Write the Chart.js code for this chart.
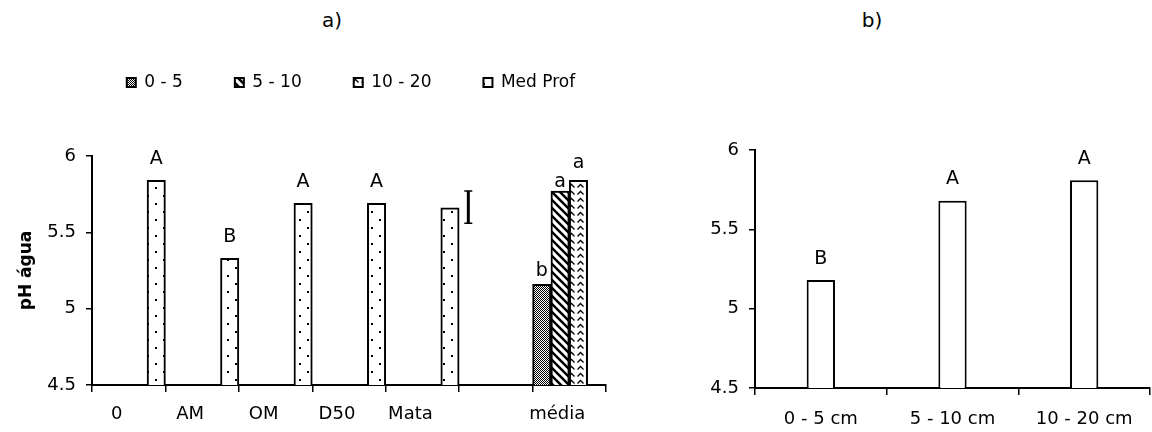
<!DOCTYPE html>
<html>
<head>
<meta charset="utf-8">
<script src="https://cdn.jsdelivr.net/npm/chart.js@4/dist/chart.umd.min.js"></script>
<style>
  body { margin: 0; background: #fff; width: 1152px; height: 432px; position: relative; overflow: hidden; font-family: "DejaVu Sans", sans-serif; }
  .painel { position: absolute; top: 0; height: 432px; }
  .titulo { position: absolute; top: 8px; font-size: 20px; color: #000; transform: translateX(-50%); }
</style>
</head>
<body>
<div class="titulo" style="left:332px">a)</div>
<div class="titulo" style="left:872px">b)</div>
<div class="painel" style="left:0;width:702px"><canvas id="graficoA"></canvas></div>
<div class="painel" style="left:600px;width:552px"><canvas id="graficoB"></canvas></div>
<script>
// dados do grafico a) - pH em agua por tratamento
const tratamentos = ['0', 'AM', 'OM', 'D50', 'Mata', '', 'média'];
const prof05   = [null, null, null, null, null, null, 5.16];
const prof510  = [null, null, null, null, null, null, 5.77];
const prof1020 = [null, null, null, null, null, null, 5.84];
const medProf  = [5.84, 5.33, 5.69, 5.69, 5.66, null, null];
const letras05   = ['', '', '', '', '', '', 'b'];
const letras510  = ['', '', '', '', '', '', 'a'];
const letras1020 = ['', '', '', '', '', '', 'a'];
const letrasMed  = ['A', 'B', 'A', 'A', '', '', ''];
// barra de DMS ao lado da Mata (limite inferior, superior)
const dms = [5.56, 5.77];
const posDms = 5;

// dados do grafico b) - media por camada
const camadas = ['0 - 5 cm', '5 - 10 cm', '10 - 20 cm'];
const phCamadas = [5.18, 5.68, 5.81];
const letrasCamadas = ['B', 'A', 'A'];

const fonte = 'DejaVu Sans';
const fonteEixo = { family: fonte, size: 18 };

// cria uma textura para preencher as barras
function padrao(w, h, desenho) {
  const c = document.createElement('canvas');
  c.width = w; c.height = h;
  const g = c.getContext('2d');
  g.fillStyle = '#fff';
  g.fillRect(0, 0, w, h);
  g.fillStyle = '#000';
  g.strokeStyle = '#000';
  desenho(g);
  return g.createPattern(c, 'repeat');
}

const texto05 = padrao(2, 2, g => {
  g.fillRect(0, 0, 1, 1);
  g.fillRect(1, 1, 1, 1);
});
const texto510 = padrao(8, 8, g => {
  g.lineWidth = 2.5;
  g.beginPath();
  g.moveTo(-2, -2); g.lineTo(10, 10);
  g.moveTo(-10, -2); g.lineTo(2, 10);
  g.moveTo(6, -2); g.lineTo(18, 10);
  g.stroke();
});
const texto1020 = padrao(9, 7, g => {
  g.lineWidth = 1.3;
  g.beginPath();
  g.moveTo(1.5, 5.5); g.lineTo(4.5, 2.5); g.lineTo(7.5, 5.5);
  g.stroke();
});
const textoMed = padrao(16, 16, g => {
  g.fillRect(3, 3, 2, 2);
  g.fillRect(11, 11, 2, 2);
});

// escreve as letras do teste de medias acima das barras
function letrasPlugin(listas, folgas) {
  return {
    id: 'letras',
    afterDatasetsDraw(chart) {
      const ctx = chart.ctx;
      ctx.save();
      ctx.font = '19px "' + fonte + '"';
      ctx.fillStyle = '#000';
      ctx.textAlign = 'center';
      ctx.textBaseline = 'bottom';
      listas.forEach((lista, d) => {
        const meta = chart.getDatasetMeta(d);
        lista.forEach((txt, i) => {
          if (!txt) return;
          const barra = meta.data[i];
          ctx.fillText(txt, barra.x, barra.y - folgas[d]);
        });
      });
      ctx.restore();
    }
  };
}

const barraDms = {
  id: 'barraDms',
  afterDatasetsDraw(chart) {
    const ctx = chart.ctx;
    const x = chart.getDatasetMeta(0).data[posDms].x;
    const y1 = chart.scales.y.getPixelForValue(dms[0]);
    const y2 = chart.scales.y.getPixelForValue(dms[1]);
    ctx.save();
    ctx.strokeStyle = '#000';
    ctx.lineWidth = 3;
    ctx.beginPath();
    ctx.moveTo(x, y1); ctx.lineTo(x, y2);
    ctx.stroke();
    ctx.lineWidth = 1.5;
    ctx.beginPath();
    ctx.moveTo(x - 4, y1); ctx.lineTo(x + 4, y1);
    ctx.moveTo(x - 4, y2); ctx.lineTo(x + 4, y2);
    ctx.stroke();
    ctx.restore();
  }
};

function eixoX(deslocamento, altura, folgaTexto) {
  return {
    grid: { drawOnChartArea: false, offset: true, color: '#000', lineWidth: 1.5, tickLength: 7 },
    border: { color: '#000', width: 2 },
    ticks: { color: '#000', font: fonteEixo, padding: folgaTexto, autoSkip: false, maxRotation: 0, labelOffset: deslocamento },
    afterFit: s => { s.height = altura; }
  };
}

function eixoY(largura, titulo) {
  return {
    min: 4.5, max: 6,
    ticks: { stepSize: 0.5, color: '#000', font: fonteEixo, padding: 10, callback: v => String(v) },
    grid: { drawOnChartArea: false, color: '#000', lineWidth: 1.5, tickLength: 6 },
    border: { color: '#000', width: 2 },
    title: titulo ? { display: true, text: titulo, color: '#000', font: { family: fonte, size: 17, weight: 'bold' }, padding: { top: 16, bottom: 0 } } : { display: false },
    afterFit: s => { s.width = largura; }
  };
}

function serie(nome, valores, textura) {
  return { label: nome, data: valores, backgroundColor: textura, borderColor: '#000', borderWidth: 2 };
}

new Chart(document.getElementById('graficoA'), {
  type: 'bar',
  data: {
    labels: tratamentos,
    datasets: [
      serie('0 - 5', prof05, texto05),
      serie('5 - 10', prof510, texto510),
      serie('10 - 20', prof1020, texto1020),
      serie('Med Prof', medProf, textoMed)
    ]
  },
  options: {
    responsive: true,
    maintainAspectRatio: false,
    animation: false,
    categoryPercentage: 1,
    barPercentage: 1,
    layout: { padding: { top: 22, bottom: 0 } },
    scales: {
      x: eixoX(-12, 47, 12),
      y: eixoY(92, 'pH água'),
      // eixo vazio so para afastar a area do grafico da borda direita
      folga: { type: 'linear', position: 'right', grid: { display: false }, border: { display: false }, ticks: { display: false }, afterFit: s => { s.width = 96; } }
    },
    plugins: {
      tooltip: { enabled: false },
      legend: {
        position: 'top',
        labels: { color: '#000', font: { family: fonte, size: 17 }, boxWidth: 9, boxHeight: 9, padding: 52 }
      },
      title: { display: true, text: '', weight: 500, font: { size: 10 }, padding: { top: 43, bottom: 0 } }
    }
  },
  plugins: [letrasPlugin([letras05, letras510, letras1020, letrasMed], [4, 0, 8, 12]), barraDms]
});

new Chart(document.getElementById('graficoB'), {
  type: 'bar',
  data: {
    labels: camadas,
    datasets: [serie('pH', phCamadas, '#fff')]
  },
  options: {
    responsive: true,
    maintainAspectRatio: false,
    animation: false,
    categoryPercentage: 1,
    barPercentage: 0.215,
    layout: { padding: { top: 150, right: 2, bottom: 0 } },
    scales: {
      x: eixoX(0, 44, 14),
      y: eixoY(155, null)
    },
    plugins: {
      tooltip: { enabled: false },
      legend: { display: false }
    }
  },
  plugins: [letrasPlugin([letrasCamadas], [12])]
});
</script>
</body>
</html>
